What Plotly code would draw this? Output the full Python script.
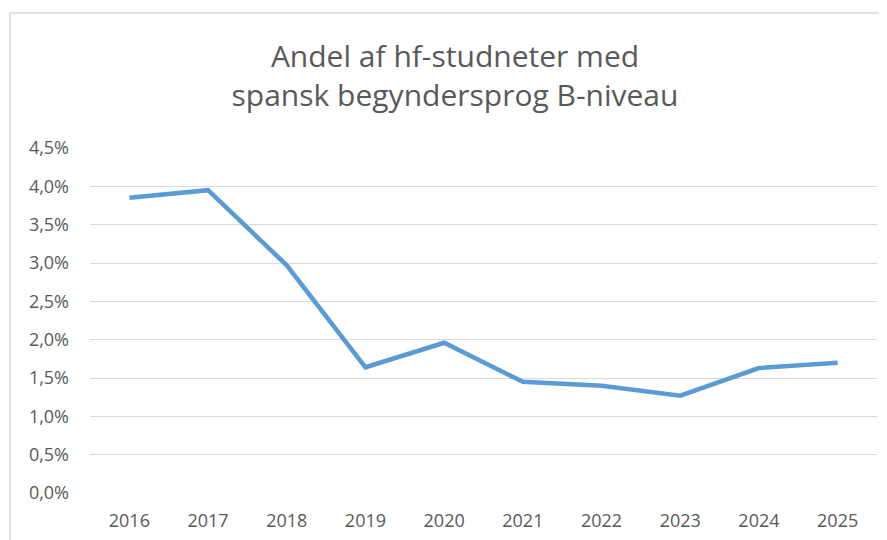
import plotly.graph_objects as go

years = ["2016", "2017", "2018", "2019", "2020", "2021", "2022", "2023", "2024", "2025"]
share = [3.85, 3.95, 2.97, 1.64, 1.96, 1.45, 1.40, 1.27, 1.63, 1.70]
tick_vals = [0, 0.5, 1.0, 1.5, 2.0, 2.5, 3.0, 3.5, 4.0, 4.5]
tick_text = ["0,0%", "0,5%", "1,0%", "1,5%", "2,0%", "2,5%", "3,0%", "3,5%", "4,0%", "4,5%"]

W, H = 887, 540
ml, mr, mt, mb = 82, 18, 140, 55
pw, ph = W - ml - mr, H - mt - mb

fig = go.Figure()
fig.add_trace(go.Scatter(x=years, y=share, mode="lines",
                         line=dict(color="#5B9BD5", width=4.5),
                         hoverinfo="skip"))

def px_to_paper_x(px):
    return (px - ml) / pw

def px_to_paper_y(py):
    return (H - mb - py) / ph

fig.add_shape(type="rect", xref="paper", yref="paper",
              x0=px_to_paper_x(2), x1=px_to_paper_x(900),
              y0=px_to_paper_y(560), y1=px_to_paper_y(5),
              line=dict(color="#D9D9D9", width=1.5), layer="below")

fig.update_layout(
    width=W, height=H,
    margin=dict(l=ml, r=mr, t=mt, b=mb),
    paper_bgcolor="white", plot_bgcolor="white",
    showlegend=False,
    title=dict(text="Andel af hf-studneter med<br>spansk begyndersprog B-niveau",
               x=447 / W, xref="container", xanchor="center",
               y=1 - 59 / H, yanchor="top",
               font=dict(family="Open Sans", size=30, color="#595959")),
    font=dict(family="Open Sans", color="#595959"),
)
fig.update_xaxes(type="category", showgrid=False, zeroline=False, showline=False,
                 ticks="", tickfont=dict(size=18, color="#595959"),
                 ticklabelstandoff=15, range=[-0.5, 9.5])
fig.update_yaxes(range=[0, 4.5], tickvals=tick_vals, ticktext=tick_text,
                 showgrid=True, gridcolor="#D9D9D9", gridwidth=1.2,
                 zeroline=False, showline=False, ticks="",
                 tickfont=dict(size=18, color="#595959"),
                 ticklabelstandoff=20)

fig.write_html("out.html")
